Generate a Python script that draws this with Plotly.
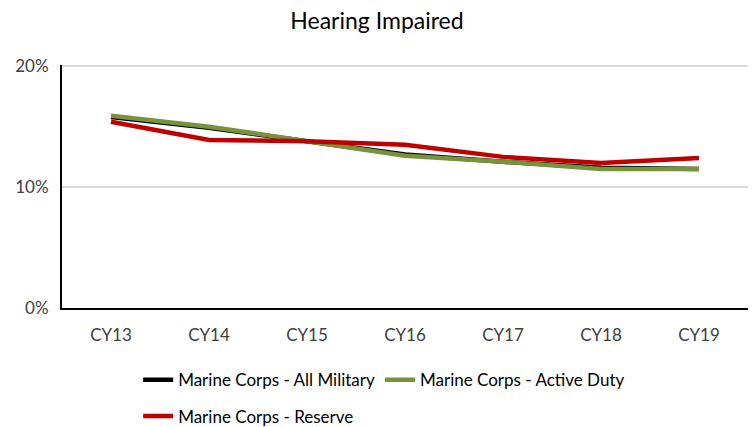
import plotly.graph_objects as go

# Share of Marine Corps members reported as hearing impaired, by calendar year
years = ["CY13", "CY14", "CY15", "CY16", "CY17", "CY18", "CY19"]
all_military = [0.158, 0.149, 0.138, 0.127, 0.121, 0.116, 0.115]
active_duty = [0.159, 0.150, 0.138, 0.126, 0.121, 0.115, 0.115]
reserve = [0.154, 0.139, 0.138, 0.135, 0.125, 0.120, 0.124]

y_ticks = [0, 0.10, 0.20]
y_tick_labels = ["0%", "10%", "20%"]

font_family = "Lato, 'Open Sans', sans-serif"

fig = go.Figure()
fig.add_trace(go.Scatter(x=years, y=all_military, mode="lines",
                         name="Marine Corps - All Military", legend="legend",
                         line=dict(color="#000000", width=4.5)))
fig.add_trace(go.Scatter(x=years, y=active_duty, mode="lines",
                         name="Marine Corps - Active Duty", legend="legend",
                         line=dict(color="#77933C", width=4.5)))
fig.add_trace(go.Scatter(x=years, y=reserve, mode="lines",
                         name="Marine Corps - Reserve", legend="legend2",
                         line=dict(color="#C00000", width=4.5)))

legend_common = dict(orientation="h", xanchor="left", yanchor="middle",
                     font=dict(family=font_family, size=17, color="#000000"),
                     bgcolor="rgba(0,0,0,0)")

fig.update_layout(
    width=754, height=427,
    margin=dict(l=62, r=6, t=65, b=119, autoexpand=False),
    paper_bgcolor="white", plot_bgcolor="white",
    font=dict(family=font_family, color="#404040", size=17),
    title=dict(text="Hearing Impaired", x=0.5, xanchor="center",
               y=0.952, yanchor="middle",
               font=dict(family=font_family, size=23, color="#000000")),
    showlegend=True,
    legend=dict(x=0.111, y=-0.2975, **legend_common),
    legend2=dict(x=0.111, y=-0.446, **legend_common),
)

fig.update_xaxes(showline=True, linecolor="#000000", linewidth=2,
                 showgrid=False, ticks="", ticklabelstandoff=11,
                 tickfont=dict(size=17, color="#404040"),
                 range=[-0.5, 6.5])
fig.update_yaxes(range=[0, 0.201], tickvals=y_ticks, ticktext=y_tick_labels,
                 showline=True, linecolor="#000000", linewidth=2,
                 showgrid=True, gridcolor="#D9D9D9", gridwidth=1.5,
                 zeroline=False, ticks="", ticklabelstandoff=8,
                 tickfont=dict(size=17, color="#404040"))

fig.write_html("out.html")
